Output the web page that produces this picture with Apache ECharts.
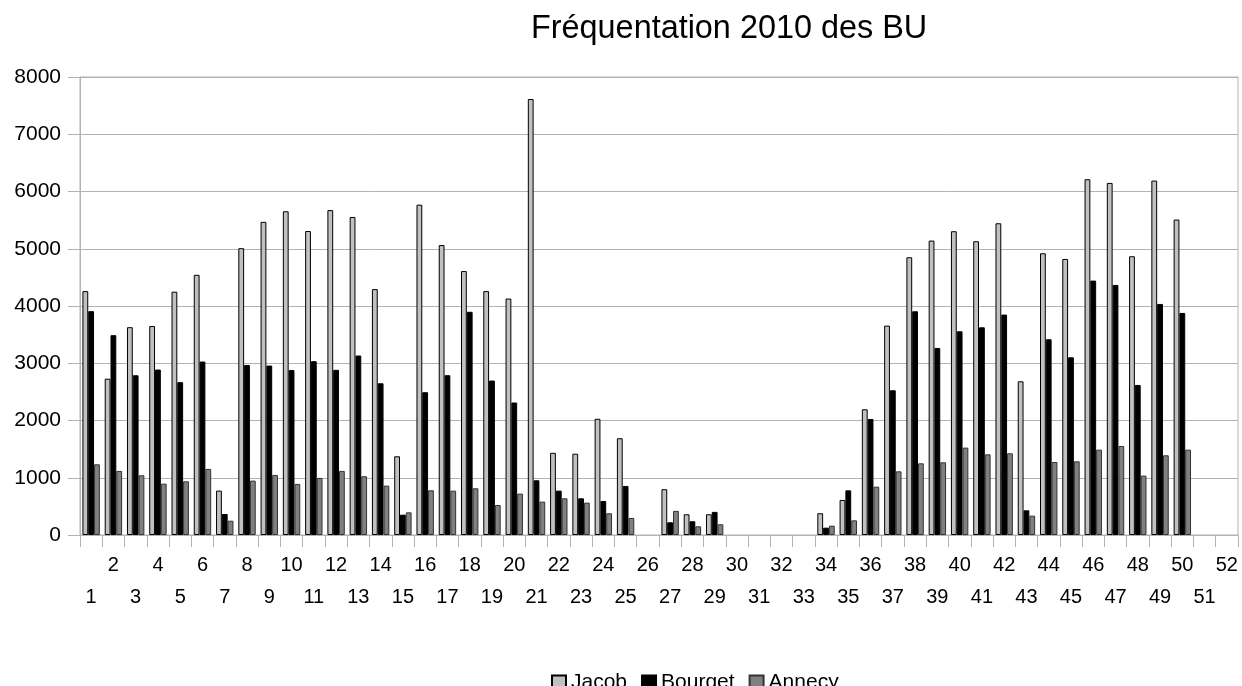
<!DOCTYPE html>
<html>
<head>
<meta charset="utf-8">
<title>Fréquentation 2010 des BU</title>
<script src="https://cdn.jsdelivr.net/npm/echarts@6/dist/echarts.min.js"></script>
<style>
  html, body { margin: 0; padding: 0; background: #fff; }
  #main { width: 1242px; height: 686px; }
</style>
</head>
<body>
<div id="main"></div>
<script>
// semaines 1..52
var weeks = ['1', '2', '3', '4', '5', '6', '7', '8', '9', '10', '11', '12', '13',
    '14', '15', '16', '17', '18', '19', '20', '21', '22', '23', '24', '25', '26',
    '27', '28', '29', '30', '31', '32', '33', '34', '35', '36', '37', '38', '39',
    '40', '41', '42', '43', '44', '45', '46', '47', '48', '49', '50', '51', '52'];

var jacob = [4260, 2730, 3630, 3650, 4250, 4545, 775, 5010, 5470, 5655, 5310, 5675, 5555,
    4295, 1375, 5770, 5065, 4610, 4260, 4130, 7615, 1435, 1420, 2030, 1690, null,
    800, 362, 362, null, null, null, null, 380, 612, 2196, 3658, 4851, 5143,
    5306, 5131, 5445, 2685, 4921, 4822, 6214, 6150, 4869, 6191, 5510, null, null];

var bourget = [3910, 3490, 2790, 2890, 2670, 3030, 367, 2970, 2960, 2880, 3036, 2885, 3135,
    2650, 355, 2494, 2791, 3899, 2698, 2314, 956, 775, 641, 594, 857, null,
    222, 240, 404, null, null, null, null, 128, 780, 2027, 2528, 3908, 3267,
    3558, 3628, 3850, 431, 3419, 3104, 4444, 4368, 2621, 4036, 3879, null, null];

var annecy = [1235, 1119, 1043, 897, 938, 1154, 250, 950, 1049, 892, 997, 1119, 1026,
    862, 396, 781, 775, 816, 524, 723, 583, 641, 565, 379, 297, null,
    421, 152, 187, null, null, null, null, 163, 256, 844, 1112, 1252, 1270,
    1526, 1409, 1427, 338, 1275, 1287, 1491, 1555, 1037, 1392, 1491, null, null];

var chart = echarts.init(document.getElementById('main'), null, { renderer: 'canvas' });

var font = 'Liberation Sans, Arial, sans-serif';
var gridColor = '#b3b3b3';

function barSeries(name, data, fill, border) {
    return {
        name: name,
        type: 'bar',
        data: data,
        barWidth: 5.8,
        barGap: '0%',
        itemStyle: {
            color: fill,
            borderColor: border,
            borderWidth: 1
        },
        emphasis: { disabled: true }
    };
}

var option = {
    animation: false,
    textStyle: { fontFamily: font },
    title: {
        text: 'Fréquentation 2010 des BU',
        left: 526,
        top: 8,
        textStyle: {
            fontFamily: font,
            fontSize: 32.4,
            fontWeight: 'normal',
            color: '#000'
        }
    },
    legend: {
        data: ['Jacob', 'Bourget', 'Annecy'],
        left: 546,
        top: 667,
        icon: 'rect',
        itemWidth: 14,
        itemHeight: 14,
        itemGap: 14,
        textStyle: { fontFamily: font, fontSize: 21, color: '#000' }
    },
    grid: {
        left: 80,
        right: 4,
        top: 77,
        bottom: 151,
        show: true,
        borderColor: gridColor,
        borderWidth: 1
    },
    xAxis: {
        type: 'category',
        data: weeks,
        boundaryGap: true,
        axisLine: { lineStyle: { color: gridColor } },
        axisTick: { show: true, interval: 0, length: 12, lineStyle: { color: gridColor } },
        axisLabel: {
            interval: 0,
            margin: 14,
            fontFamily: font,
            fontSize: 20,
            color: '#000',
            lineHeight: 32,
            formatter: function (value, index) {
                return index % 2 === 1 ? value : '\n' + value;
            }
        },
        splitLine: { show: false }
    },
    yAxis: {
        type: 'value',
        min: 0,
        max: 8000,
        interval: 1000,
        axisLine: { show: true, lineStyle: { color: gridColor } },
        axisTick: { show: true, length: 12, lineStyle: { color: gridColor } },
        axisLabel: {
            fontFamily: font,
            fontSize: 21,
            color: '#000',
            margin: 19,
            formatter: function (v) { return String(v); }
        },
        splitLine: { lineStyle: { color: gridColor } }
    },
    series: [
        barSeries('Jacob', jacob, '#c0c0c0', '#000'),
        barSeries('Bourget', bourget, '#000000', '#000'),
        barSeries('Annecy', annecy, '#808080', '#333')
    ]
};

chart.setOption(option);
</script>
</body>
</html>
